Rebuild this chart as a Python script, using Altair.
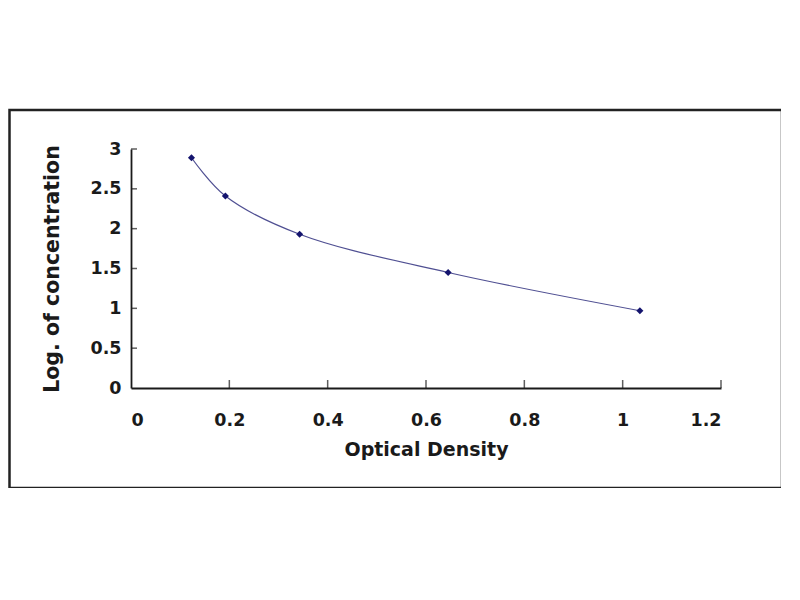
import altair as alt
import pandas as pd

# Standard curve values
optical_density = [0.123, 0.192, 0.343, 0.645, 1.035]
log_conc = [2.89, 2.41, 1.93, 1.45, 0.97]

x_ticks = [0.2, 0.4, 0.6, 0.8, 1.0, 1.2]
y_ticks = [0.5, 1.0, 1.5, 2.0, 2.5, 3.0]

FONT = "DejaVu Sans"
INK = "#1a1a1a"
SERIES = "#14146e"

curve = pd.DataFrame({"od": optical_density, "logc": log_conc})
xt = pd.DataFrame({"od": x_ticks, "logc": [0] * len(x_ticks)})
yt = pd.DataFrame({"logc": y_ticks, "od": [0] * len(y_ticks)})

x_scale = alt.Scale(domain=[0, 1.2], nice=False, zero=True)
y_scale = alt.Scale(domain=[0, 3], nice=False, zero=True)

x_axis = alt.Axis(
    values=[0] + x_ticks,
    format=".1~f",
    grid=False,
    ticks=False,
    tickSize=0,
    domainColor=INK,
    domainWidth=1.8,
    labelPadding=23,
    labelFontSize=17.5,
    labelOverlap=False,
    titleFontSize=19,
    titlePadding=12,
)
y_axis = alt.Axis(
    values=[0] + y_ticks,
    format=".1~f",
    grid=False,
    ticks=False,
    tickSize=0,
    domainColor=INK,
    domainWidth=1.8,
    labelPadding=10,
    labelFontSize=17.5,
    labelOverlap=False,
    titleFontSize=20.5,
    titlePadding=27,
)

x_enc = alt.X("od:Q", scale=x_scale, axis=x_axis, title="Optical Density")
y_enc = alt.Y("logc:Q", scale=y_scale, axis=y_axis, title="Log. of concentration")

line = alt.Chart(curve).mark_line(
    interpolate="catmull-rom", color=SERIES, strokeWidth=1.2, opacity=0.75
).encode(x_enc, y_enc)

points = alt.Chart(curve).mark_point(
    shape="diamond", filled=True, color=SERIES, size=50, opacity=1
).encode(x_enc, y_enc)

# inside tick marks, like the spreadsheet axes
xtick_marks = alt.Chart(xt).mark_tick(
    orient="vertical", size=8, yOffset=-4, color=INK, thickness=1.5
).encode(x_enc, y_enc)

ytick_marks = alt.Chart(yt).mark_tick(
    orient="horizontal", size=6, xOffset=3, color=INK, thickness=1.5
).encode(x_enc, y_enc)

# frame round the whole picture
frame = alt.Chart(pd.DataFrame({"a": [0]})).mark_rect(
    fill=None, stroke="#222222", strokeWidth=2.5
).encode(
    x=alt.value(-121.5), x2=alt.value(651), y=alt.value(-39), y2=alt.value(339)
)

chart = (
    alt.layer(line, points, xtick_marks, ytick_marks, frame)
    .properties(
        width=590,
        height=239,
        autosize=alt.AutoSizeParams(type="none"),
        padding={"left": 123, "top": 141, "right": 60, "bottom": 100},
    )
    .configure_view(stroke=None)
    .configure_axis(
        labelFont=FONT,
        titleFont=FONT,
        labelFontWeight="bold",
        titleFontWeight="bold",
        labelColor=INK,
        titleColor=INK,
    )
)

chart.save("out.html", embed_options={"renderer": "svg", "actions": False})
